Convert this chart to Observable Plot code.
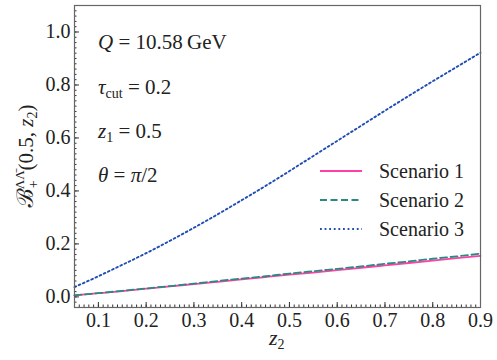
<!DOCTYPE html>
<html>
<head>
<meta charset="utf-8">
<script src="https://cdn.jsdelivr.net/npm/d3@7"></script>
<script src="https://cdn.jsdelivr.net/npm/@observablehq/plot@0.6"></script>
<style>
  html, body { margin: 0; padding: 0; background: #fff; }
  #chart { width: 497px; height: 360px; }
  #chart svg, #chart svg text, #chart svg tspan {
    font-family: "Liberation Serif", "Times New Roman", Times, Tinos, "Noto Serif", "DejaVu Serif", FreeSerif, "Nimbus Roman", Georgia, serif !important;
  }
</style>
</head>
<body>
<div id="chart"></div>
<script>
// ---- data ----
const z2 = [0.05, 0.1, 0.15, 0.2, 0.25, 0.3, 0.35, 0.4, 0.45, 0.5, 0.55, 0.6, 0.65, 0.7, 0.75, 0.8, 0.85, 0.9];
const scenario1 = [0.006, 0.014, 0.022, 0.031, 0.040, 0.048, 0.057, 0.066, 0.075, 0.084, 0.092, 0.101, 0.110, 0.119, 0.128, 0.137, 0.146, 0.155];
const scenario2 = [0.006, 0.014, 0.023, 0.032, 0.041, 0.050, 0.060, 0.069, 0.078, 0.088, 0.097, 0.106, 0.115, 0.125, 0.134, 0.144, 0.153, 0.163];
const scenario3 = [0.037, 0.078, 0.121, 0.165, 0.212, 0.261, 0.312, 0.365, 0.419, 0.475, 0.532, 0.589, 0.646, 0.703, 0.759, 0.814, 0.868, 0.922];
const seriesNames = ["Scenario 1", "Scenario 2", "Scenario 3"];
const xTicks = [0.1, 0.2, 0.3, 0.4, 0.5, 0.6, 0.7, 0.8, 0.9];
const xTickLabels = ["0.1", "0.2", "0.3", "0.4", "0.5", "0.6", "0.7", "0.8", "0.9"];
const yTicks = [0.0, 0.2, 0.4, 0.6, 0.8, 1.0];
const yTickLabels = ["0.0", "0.2", "0.4", "0.6", "0.8", "1.0"];
const xDomain = [0.05, 0.9];
const yDomain = [-0.04, 1.1];

// ---- styles ----
const colors = ["#ff3fa6", "#2a8a80", "#1f4db5"];
const dashes = [null, "7,3.5", "1.8,2.8"];
const widths = [1.8, 1.8, 1.9];

const rows = [];
[scenario1, scenario2, scenario3].forEach((vals, i) => {
  vals.forEach((v, j) => rows.push({ series: seriesNames[i], x: z2[j], y: v }));
});

const xMinor = d3.range(0.05, 0.9001, 0.01).map(v => +v.toFixed(2));
const yMinor = d3.range(-0.04, 1.1001, 0.02).map(v => +v.toFixed(2));

const lineMarks = seriesNames.map((name, i) =>
  Plot.line(rows.filter(d => d.series === name), {
    x: "x", y: "y",
    stroke: colors[i],
    strokeWidth: widths[i],
    strokeDasharray: dashes[i],
    curve: "natural"
  })
);

const chart = Plot.plot({
  width: 497,
  height: 360,
  marginLeft: 74,
  marginRight: 17,
  marginTop: 5,
  marginBottom: 53,
  style: { fontSize: "19px", color: "#222", background: "#fff" },
  x: { domain: xDomain, label: null },
  y: { domain: yDomain, label: null },
  marks: [
    ...lineMarks,
    // minor ticks (inward)
    Plot.axisX(xMinor, { anchor: "bottom", tickSize: -2.5, tickFormat: () => "", label: null, stroke: "#333" }),
    Plot.axisY(yMinor, { anchor: "left", tickSize: -2.5, tickFormat: () => "", label: null, stroke: "#333" }),
    // major ticks (inward)
    Plot.axisX(xTicks, { anchor: "bottom", tickSize: -5, tickFormat: () => "", label: null, stroke: "#333" }),
    Plot.axisY(yTicks, { anchor: "left", tickSize: -5, tickFormat: () => "", label: null, stroke: "#333" }),
    // tick labels
    Plot.axisX(xTicks, { anchor: "bottom", tickSize: 0, tickPadding: 5, tickFormat: (d, i) => xTickLabels[i], label: null, fontSize: 20 }),
    Plot.axisY(yTicks, { anchor: "left", tickSize: 0, tickPadding: 4, tickFormat: (d, i) => yTickLabels[i], label: null, fontSize: 20 }),
    Plot.frame({ stroke: "#666", strokeWidth: 1.2 })
  ]
});

document.getElementById("chart").appendChild(chart);

// ---- rich text overlays (annotations, legend, axis titles) ----
const svg = d3.select(chart);
const g = svg.append("g")
  .attr("font-size", 19)
  .attr("fill", "#222")
  .attr("text-anchor", "start");

function rich(x, y, parts, attrs = {}) {
  const t = g.append("text").attr("x", x).attr("y", y);
  Object.entries(attrs).forEach(([k, v]) => t.attr(k, v));
  parts.forEach(p => {
    const s = t.append("tspan").text(p.t);
    if (p.i) s.attr("font-style", "italic");
    if (p.s) s.attr("font-size", p.s);
    if (p.dy) s.attr("dy", p.dy);
    if (p.dx) s.attr("dx", p.dx);
  });
  return t;
}

// annotations
rich(98, 49, [{ t: "Q", i: true, s: 21 }, { t: " = 10.58\u2009GeV", s: 21 }]);
rich(98, 94, [{ t: "τ", i: true, s: 21 }, { t: "cut", s: 14, dy: 4 }, { t: " = 0.2", dy: -4, s: 21 }]);
rich(98, 138, [{ t: "z", i: true, s: 21 }, { t: "1", s: 14, dy: 4 }, { t: " = 0.5", dy: -4, s: 21 }]);
rich(98, 182, [{ t: "θ", i: true, s: 21 }, { t: " = ", s: 21 }, { t: "π", i: true, s: 21 }, { t: "/2", s: 21 }]);

// legend
const legendY = [171, 200, 229];
seriesNames.forEach((name, i) => {
  g.append("line")
    .attr("x1", 320).attr("x2", 362)
    .attr("y1", legendY[i]).attr("y2", legendY[i])
    .attr("stroke", colors[i]).attr("stroke-width", widths[i])
    .attr("stroke-dasharray", dashes[i]);
  g.append("text").attr("x", 379).attr("y", legendY[i] + 6.5).attr("font-size", 20).text(name);
});

// x-axis title
rich(269, 345, [{ t: "z", i: true, s: 22 }, { t: "2", s: 14, dy: 4 }]);

// y-axis title (rotated)
rich(0, 0, [
  { t: "ℬ", i: true, s: 23 },
  { t: "+", s: 14, dy: 5 },
  { t: "ΛΛ\u0304", s: 13, dy: -14, dx: -9 },
  { t: "(0.5, ", dy: 9, s: 21 },
  { t: "z", i: true, s: 21 },
  { t: "2", s: 14, dy: 4 },
  { t: ")", s: 21, dy: -4 }
], { transform: "translate(33,156) rotate(-90)", "text-anchor": "middle" });
</script>
</body>
</html>
